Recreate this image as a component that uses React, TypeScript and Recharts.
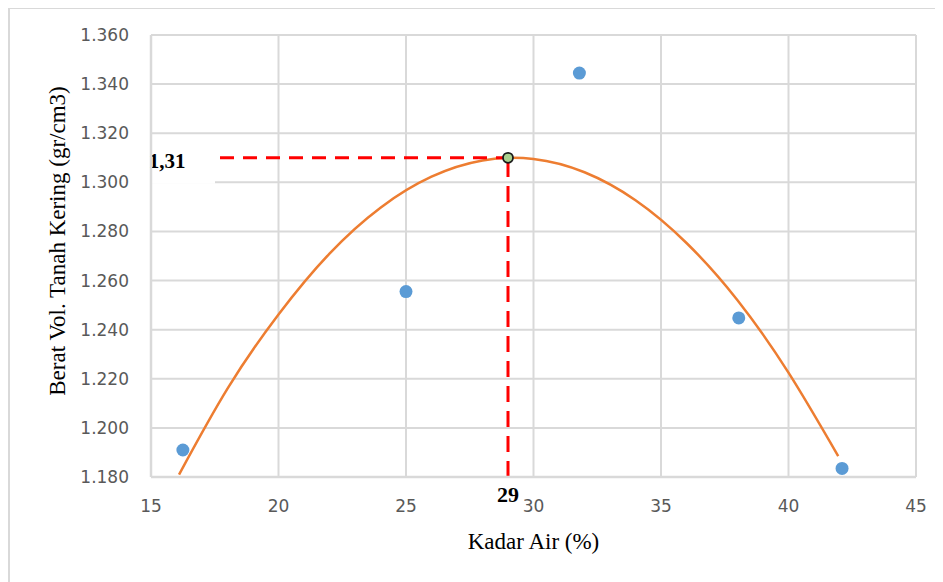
import { ComposedChart, Scatter, Line, XAxis, YAxis, CartesianGrid, ReferenceLine } from 'recharts';

// measured points: kadar air (%) vs berat volume kering (gr/cm3)
const moisture = [16.25, 25.0, 31.8, 38.05, 42.1];
const density = [1.191, 1.2555, 1.3445, 1.2448, 1.1835];

// polynomial trendline
const trendX = [16.1, 18, 20, 22, 24, 26, 28, 30, 32, 34, 36, 38, 40, 41.95];
const trendY = [1.181, 1.216, 1.2462, 1.271, 1.2897, 1.3023, 1.3089, 1.3095, 1.3041, 1.2927, 1.2753, 1.252, 1.2225, 1.1885];

const optMoisture = 29;
const optDensity = 1.31;

const xTicks = [15, 20, 25, 30, 35, 40, 45];
const yTicks = [1.18, 1.2, 1.22, 1.24, 1.26, 1.28, 1.3, 1.32, 1.34, 1.36];

const points = moisture.map((x, i) => ({ x, y: density[i] }));
const trend = trendX.map((x, i) => ({ x, y: trendY[i] }));
const peak = [{ x: optMoisture, y: optDensity }];

const grey = '#d9d9d9';
const tickStyle = { fontFamily: 'DejaVu Sans', fontSize: 17, fill: '#595959' };
const serif = 'Liberation Serif';

const YTitle = () => (
	<text x={49} y={233} transform='rotate(-90 49 233)' textAnchor='middle' dominantBaseline='central' fontFamily={serif} fontSize={23} fill='#000'>
		Berat Vol. Tanah Kering (gr/cm3)
	</text>
);

const XTitle = (props: any) => {
	const vb = props.viewBox;
	return (
		<text x={vb.x + vb.width / 2} y={541} textAnchor='middle' fontFamily={serif} fontSize={23} fill='#000'>
			Kadar Air (%)
		</text>
	);
};

const DensityTag = (props: any) => {
	const vb = props.viewBox;
	return (
		<g>
			<rect x={vb.x - 16} y={vb.y - 22} width={80} height={48} fill='#fff' />
			<text x={vb.x + 16} y={vb.y + 3} textAnchor='middle' dominantBaseline='central' fontFamily={serif} fontWeight='bold' fontSize={21} fill='#000'>
				1,31
			</text>
		</g>
	);
};

const MoistureTag = (props: any) => {
	const vb = props.viewBox;
	return (
		<text x={vb.x} y={vb.y + vb.height + 17} textAnchor='middle' dominantBaseline='central' fontFamily={serif} fontWeight='bold' fontSize={22} fill='#000'>
			29
		</text>
	);
};

export default function App() {
	return (
		<div style={{ position: 'relative', width: 935, height: 574 }}>
			<div style={{ position: 'absolute', left: 0, top: -1, width: 935, height: 575, borderTop: `2px solid ${grey}`, borderLeft: `2px solid ${grey}` }} />
			<div style={{ position: 'absolute', left: 0, top: 0 }}>
				<ComposedChart width={935} height={574} margin={{ top: 27, right: 27, left: 43, bottom: 65 }}>
					<CartesianGrid stroke={grey} strokeWidth={2} />
					<XAxis
						dataKey='x'
						type='number'
						domain={[15, 45]}
						ticks={xTicks}
						height={40}
						tickLine={false}
						tickSize={0}
						tickMargin={23}
						axisLine={{ stroke: grey, strokeWidth: 2.5 }}
						tick={tickStyle}
						label={<XTitle />}
					/>
					<YAxis
						dataKey='y'
						type='number'
						domain={[1.18, 1.36]}
						ticks={yTicks}
						width={100}
						tickLine={false}
						tickSize={0}
						tickMargin={22}
						axisLine={{ stroke: grey, strokeWidth: 2.5 }}
						tick={tickStyle}
						tickFormatter={(v: number) => v.toFixed(3)}
						label={<YTitle />}
					/>
					<Scatter
						data={points}
						isAnimationActive={false}
						shape={(p: any) => <circle cx={p.cx} cy={p.cy} r={6.5} fill='#5b9bd5' />}
					/>
					<Line
						data={trend}
						dataKey='y'
						type='natural'
						stroke='#ed7d31'
						strokeWidth={2.5}
						dot={false}
						activeDot={false}
						isAnimationActive={false}
					/>
					<ReferenceLine
						segment={[{ x: 15, y: optDensity }, { x: optMoisture, y: optDensity }]}
						stroke='#ff0000'
						strokeWidth={3}
						strokeDasharray='14 9'
						label={<DensityTag />}
					/>
					<ReferenceLine
						segment={[{ x: optMoisture, y: 1.18 }, { x: optMoisture, y: optDensity }]}
						stroke='#ff0000'
						strokeWidth={3}
						strokeDasharray='16 9'
						label={<MoistureTag />}
					/>
					<Scatter
						data={peak}
						isAnimationActive={false}
						shape={(p: any) => <circle cx={p.cx} cy={p.cy} r={5} fill='#a9d18e' stroke='#1a1a1a' strokeWidth={1.8} />}
					/>
				</ComposedChart>
			</div>
		</div>
	);
}
